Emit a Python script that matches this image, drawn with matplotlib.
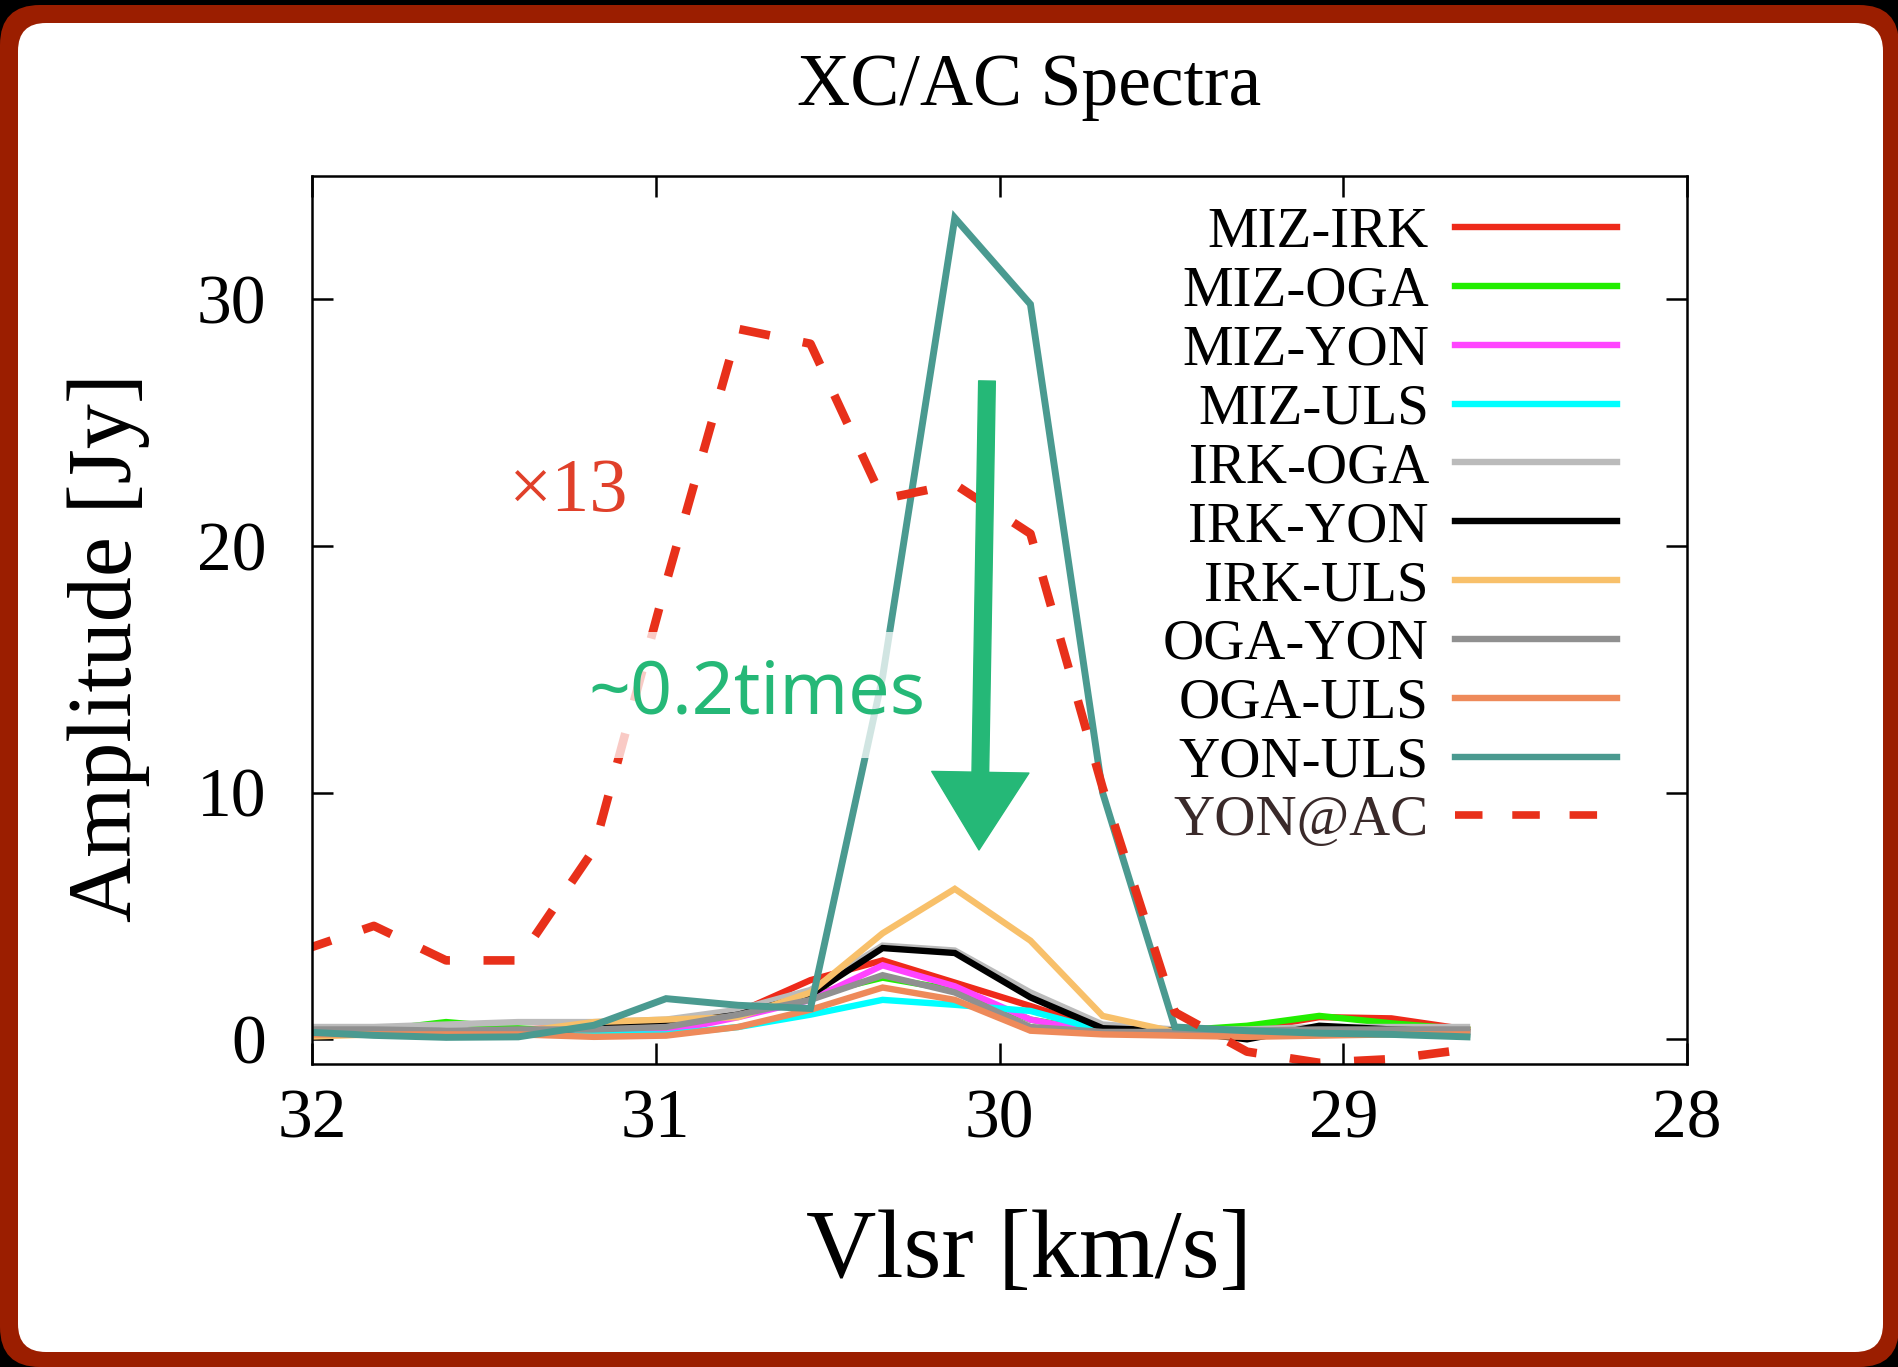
import matplotlib
matplotlib.use("Agg")
import matplotlib.pyplot as plt
from matplotlib.patches import FancyBboxPatch

# ---------------- data ----------------
vlsr = [32.03, 31.82, 31.61, 31.40, 31.18, 30.97, 30.76, 30.55, 30.34,
        30.13, 29.91, 29.70, 29.49, 29.28, 29.07, 28.86, 28.64]

baselines = ["MIZ-IRK", "MIZ-OGA", "MIZ-YON", "MIZ-ULS", "IRK-OGA",
             "IRK-YON", "IRK-ULS", "OGA-YON", "OGA-ULS", "YON-ULS"]

miz_irk = [0.3, 0.3, 0.3, 0.4, 0.5, 0.5, 1.1, 2.4, 3.2, 2.3, 1.35, 0.4, 0.3, 0.4, 0.9, 0.85, 0.4]
miz_oga = [0.3, 0.35, 0.7, 0.45, 0.25, 0.5, 1.2, 1.8, 2.5, 2.0, 0.8, 0.3, 0.35, 0.55, 0.95, 0.65, 0.4]
miz_yon = [0.2, 0.2, 0.2, 0.2, 0.3, 0.3, 0.9, 1.6, 3.0, 2.15, 0.8, 0.25, 0.2, 0.2, 0.3, 0.3, 0.3]
miz_uls = [0.2, 0.2, 0.2, 0.2, 0.2, 0.2, 0.5, 1.0, 1.6, 1.4, 1.15, 0.35, 0.25, 0.2, 0.2, 0.2, 0.2]
irk_oga = [0.5, 0.5, 0.6, 0.7, 0.7, 0.8, 1.2, 2.0, 3.8, 3.6, 1.9, 0.6, 0.4, 0.4, 0.5, 0.5, 0.5]
irk_yon = [0.3, 0.2, 0.1, 0.2, 0.5, 0.6, 1.0, 1.8, 3.7, 3.5, 1.7, 0.45, 0.35, 0.0, 0.55, 0.4, 0.3]
irk_uls = [0.1, 0.2, 0.3, 0.3, 0.7, 0.8, 0.9, 1.9, 4.3, 6.1, 4.0, 0.95, 0.3, 0.2, 0.25, 0.3, 0.3]
oga_yon = [0.4, 0.4, 0.35, 0.4, 0.4, 0.5, 1.0, 1.6, 2.6, 1.9, 0.5, 0.3, 0.3, 0.35, 0.4, 0.4, 0.4]
oga_uls = [0.2, 0.2, 0.2, 0.2, 0.1, 0.15, 0.5, 1.2, 2.1, 1.6, 0.35, 0.2, 0.15, 0.1, 0.15, 0.2, 0.2]
yon_uls = [0.3, 0.16, 0.08, 0.1, 0.57, 1.65, 1.38, 1.25, 14.7, 33.3, 29.8, 10.0, 0.5, 0.35, 0.25, 0.2, 0.1]

yon_ac = [3.6, 4.6, 3.2, 3.2, 7.7, 18.5, 28.8, 28.2, 21.9, 22.5, 20.5, 10.2, 1.1, -0.5, -0.95, -0.8, -0.4]

series = [miz_irk, miz_oga, miz_yon, miz_uls, irk_oga,
          irk_yon, irk_uls, oga_yon, oga_uls, yon_uls]
colors = ["#ee2a1a", "#22ee00", "#ff44ff", "#00ffff", "#bbbbbb",
          "#000000", "#f8c06a", "#909090", "#ee8a5a", "#4a9a90"]

xticks = [32, 31, 30, 29, 28]
yticks = [0, 10, 20, 30]

# ---------------- figure ----------------
W, H = 1899, 1367
fig = plt.figure(figsize=(W / 100, H / 100), dpi=100)
fig.patch.set_facecolor("black")

bg = fig.add_axes([0, 0, 1, 1], zorder=0)
bg.set_xlim(0, W)
bg.set_ylim(H, 0)
bg.axis("off")
bg.add_patch(FancyBboxPatch((0, 5), W, H - 5, boxstyle="round,pad=0,rounding_size=40",
                            facecolor="#9b1e00", edgecolor="none"))
bg.add_patch(FancyBboxPatch((18, 23), W - 18 - 16, H - 23 - 15,
                            boxstyle="round,pad=0,rounding_size=28",
                            facecolor="white", edgecolor="none"))

serif = ["Liberation Serif", "DejaVu Serif"]

ax = fig.add_axes([312 / W, 1 - 1064 / H, (1687 - 312) / W, (1064 - 176) / H], zorder=1)
ax.set_facecolor("white")

for name, vals, c in zip(baselines, series, colors):
    lw = 5.0 if name == "YON-ULS" else 4.6
    ax.plot(vlsr, vals, color=c, lw=lw, label=name, solid_joinstyle="miter")
ax.plot(vlsr, yon_ac, color="#e8301a", lw=6.2, dashes=(3.6, 3.9), label="YON@AC")

ax.set_xlim(32, 28)
ax.set_ylim(-1, 35)
ax.set_xticks(xticks)
ax.set_yticks(yticks)
ax.tick_params(direction="in", length=15, width=1.8, top=True, right=True,
               labelsize=50)
ax.tick_params(axis="x", pad=18)
ax.tick_params(axis="y", pad=33)
for lab in ax.get_xticklabels() + ax.get_yticklabels():
    lab.set_family(serif)
for sp in ax.spines.values():
    sp.set_linewidth(1.8)

leg = ax.legend(loc="upper right", bbox_to_anchor=(0.949, 0.965), markerfirst=False,
                frameon=False, prop={"family": serif, "size": 41},
                handlelength=2.85, handletextpad=0.45, labelspacing=0.12,
                borderaxespad=0, borderpad=0)
for line in leg.get_lines():
    line.set_linewidth(4.6)
leg.get_lines()[-1].set_linewidth(5.5)
leg.get_texts()[-1].set_color("#3a2a2a")

# ---------------- texts & annotations ----------------
fig.text(1029 / W, 1 - 87 / H, "XC/AC Spectra", family=serif, fontsize=53,
         ha="center", va="center")
fig.text(1029 / W, 1 - 1254 / H, "Vlsr [km/s]", family=serif, fontsize=70,
         ha="center", va="center")
fig.text(109 / W, 1 - 648 / H, "Amplitude [Jy]", family=serif, fontsize=65,
         ha="center", va="center", rotation=90)

ov = fig.add_axes([0, 0, 1, 1], zorder=5)
ov.set_xlim(0, W)
ov.set_ylim(H, 0)
ov.axis("off")
ov.patch.set_alpha(0)

ov.text(569, 492, "\u00d713", family=serif, fontsize=55, color="#e0402a",
        ha="center", va="center")
ov.text(757, 695, "~0.2times", family=["Noto Sans", "DejaVu Sans"], fontsize=53,
        color="#25b877", ha="center", va="center",
        bbox=dict(boxstyle="square,pad=0.35", facecolor="white", edgecolor="none", alpha=0.75))
ov.annotate("", xy=(979, 850), xytext=(987, 381), xycoords="data",
            arrowprops=dict(arrowstyle="simple,head_length=5.6,head_width=7.0,tail_width=1.2",
                            color="#25b877", shrinkA=0, shrinkB=0, mutation_scale=10))

fig.savefig("out.png", dpi=100, facecolor=fig.get_facecolor())
